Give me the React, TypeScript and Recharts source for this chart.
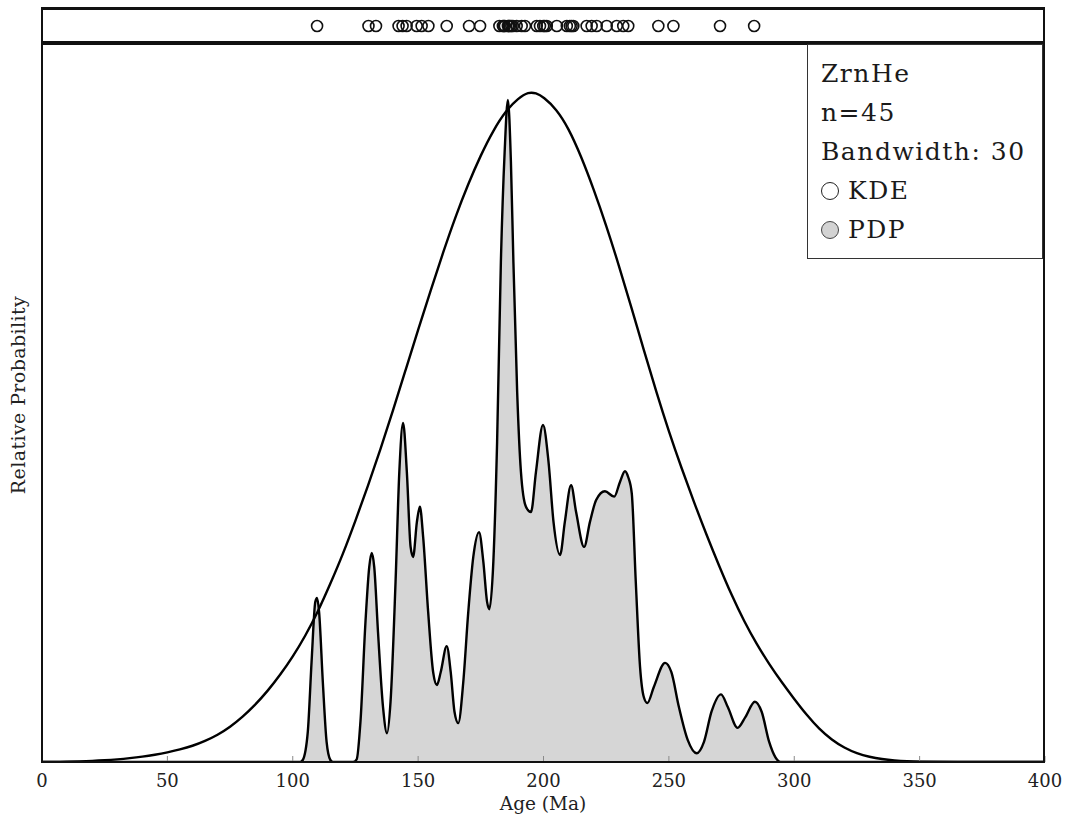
import React from "react";
import { Area, ComposedChart, Line, Scatter, ScatterChart, XAxis, YAxis } from "recharts";

// x axis ticks (Ma)
const ageTicks = [0, 50, 100, 150, 200, 250, 300, 350, 400];

// single-grain ages shown in the strip above the plot
const grainAges = [
  109.7, 130.2, 133.2, 142.2, 143.8, 145.4, 149.4, 151.4, 154.1, 161.4,
  170.3, 174.7, 182.4, 183.8, 184.2, 184.6, 185.8, 186.2, 186.6, 187.2,
  187.8, 189.3, 191.3, 192.6, 197.3, 198.6, 199.9, 200.5, 201.3, 205.3,
  209.3, 210.5, 211.2, 211.9, 217.2, 219.2, 221.2, 225.2, 229.2, 231.8,
  233.8, 245.8, 251.8, 270.4, 284.0,
];

// KDE curve (peak = 1)
const kdeAges = [
  0, 5, 10, 15, 20, 25, 30, 35, 40, 45, 50, 55, 60, 65, 70, 75, 80, 85, 90, 95, 100, 105, 110, 115,
  120, 125, 130, 135, 140, 145, 150, 155, 160, 165, 170, 175, 180, 185, 190, 194, 197, 200, 205, 210,
  215, 220, 225, 230, 235, 240, 245, 250, 255, 260, 265, 270, 275, 280, 285, 290, 295, 300, 305, 310,
  315, 320, 325, 330, 335, 340, 345, 350, 360, 400,
];
const kdeValues = [
  0, 0, 0.0004, 0.0009, 0.0015, 0.0025, 0.0039, 0.0057, 0.0079, 0.0107, 0.0142, 0.0187, 0.0239, 0.0313,
  0.0403, 0.0522, 0.0672, 0.0851, 0.106, 0.13, 0.157, 0.188, 0.224, 0.266, 0.31, 0.36, 0.412, 0.467,
  0.525, 0.585, 0.645, 0.704, 0.761, 0.815, 0.863, 0.906, 0.943, 0.972, 0.991, 1.0, 0.9985, 0.9925,
  0.975, 0.946, 0.904, 0.855, 0.801, 0.742, 0.679, 0.615, 0.552, 0.493, 0.439, 0.388, 0.339, 0.293,
  0.249, 0.21, 0.176, 0.146, 0.119, 0.094, 0.07, 0.049, 0.033, 0.021, 0.0127, 0.0075, 0.0042, 0.0022,
  0.001, 0.0004, 0, 0,
];

// PDP curve
const pdpAges = [
  0, 103, 104, 106, 107.5, 109, 109.7, 110.5, 112, 113.5, 115, 116, 124, 125.5, 127, 129, 130.5, 131.5,
  132.5, 134, 136, 137.6, 139, 141, 142.5, 144, 145.5, 147, 148, 149.5, 150.7, 152, 154, 156, 157.5,
  159, 161.4, 163, 164.5, 166, 168, 170, 172, 174.3, 176, 177.5, 178.4, 180, 181.5, 183, 184.5, 185.8,
  187, 188, 189.5, 191, 193, 195, 197, 199.8, 202, 204, 206.6, 208.5, 211, 213, 216.2, 218.5, 221,
  224.5, 228.2, 230.5, 232.5, 233.8, 235.2, 236.8, 238.5, 240, 241.4, 244, 248.5, 251, 254, 257.5,
  261.1, 264, 267, 270.8, 273.5, 277.4, 280.5, 284.3, 287, 290, 292.5, 294.5, 400,
];
const pdpValues = [
  0, 0, 0.003, 0.045, 0.149, 0.239, 0.245, 0.224, 0.119, 0.03, 0.003, 0, 0, 0.004, 0.06, 0.209, 0.291, 0.312,
  0.291, 0.194, 0.082, 0.043, 0.09, 0.269, 0.433, 0.506, 0.433, 0.321, 0.306, 0.358, 0.381, 0.336, 0.224, 0.134, 0.115,
  0.134, 0.173, 0.134, 0.075, 0.058, 0.119, 0.224, 0.306, 0.343, 0.299, 0.239, 0.228, 0.299, 0.478, 0.746, 0.91, 0.988,
  0.896, 0.746, 0.552, 0.433, 0.381, 0.373, 0.433, 0.503, 0.448, 0.358, 0.309, 0.358, 0.413, 0.373, 0.321, 0.358, 0.391,
  0.404, 0.396, 0.418, 0.434, 0.425, 0.401, 0.269, 0.142, 0.097, 0.088, 0.112, 0.148, 0.134, 0.082, 0.033,
  0.013, 0.03, 0.075, 0.101, 0.082, 0.051, 0.067, 0.09, 0.075, 0.03, 0.007, 0, 0,
];

const kdeData = kdeAges.map((age, i) => ({ age, k: kdeValues[i] }));
const pdpData = pdpAges.map((age, i) => ({ age, p: pdpValues[i] }));
const grainData = grainAges.map((age) => ({ age, y: 0.5 }));

const font = "'DejaVu Serif', 'Liberation Serif', serif";
const tickGrey = "#8a8a8a";

function BottomTick({ x, y, payload }: any) {
  return (
    <g>
      <line x1={x} x2={x} y1={y} y2={y - 6} stroke={tickGrey} strokeWidth={1} />
      <text x={x} y={y + 25} textAnchor="middle" fontFamily={font} fontSize={18} fill="#222">
        {payload.value}
      </text>
    </g>
  );
}

function TopTick({ x, y }: any) {
  return <line x1={x} x2={x} y1={y} y2={y + 6} stroke={tickGrey} strokeWidth={1} />;
}

function GrainDot({ cx, cy }: any) {
  return <circle cx={cx} cy={cy} r={5.5} fill="none" stroke="#111" strokeWidth={1.6} />;
}

const legendLine = { height: 39, lineHeight: "39px", whiteSpace: "nowrap" as const };

export default function App() {
  return (
    <div style={{ position: "absolute", left: 0, top: 0, width: 1070, height: 823, background: "#fff" }}>
      {/* strip of individual ages */}
      <div style={{ position: "absolute", left: 0, top: 0 }}>
        <ScatterChart width={1070} height={44} margin={{ top: 8, left: 42, right: 25, bottom: 0 }}>
          <XAxis dataKey="age" type="number" domain={[0, 400]} hide />
          <YAxis dataKey="y" type="number" domain={[0, 1]} hide />
          <Scatter data={grainData} shape={<GrainDot />} isAnimationActive={false} />
        </ScatterChart>
      </div>

      <div style={{ position: "absolute", left: 0, top: 0 }}>
        <ComposedChart width={1070} height={823} margin={{ top: 44, left: 42, right: 25, bottom: 31 }}>
          <XAxis
            dataKey="age"
            type="number"
            domain={[0, 400]}
            ticks={ageTicks}
            allowDataOverflow
            height={30}
            tickSize={0}
            tickMargin={0}
            axisLine={false}
            tick={<BottomTick />}
          />
          <XAxis
            xAxisId="top"
            orientation="top"
            dataKey="age"
            type="number"
            domain={[0, 400]}
            ticks={ageTicks}
            allowDataOverflow
            height={0}
            tickSize={0}
            tickMargin={0}
            axisLine={false}
            tick={<TopTick />}
          />
          <YAxis type="number" domain={[0, 1.0716]} allowDataOverflow hide />
          <Area
            data={pdpData}
            dataKey="p"
            type="monotone"
            fill="#d6d6d6"
            fillOpacity={1}
            stroke="#000"
            strokeWidth={2.4}
            isAnimationActive={false}
          />
          <Line
            data={kdeData}
            dataKey="k"
            type="basis"
            stroke="#000"
            strokeWidth={2.4}
            dot={false}
            isAnimationActive={false}
          />
        </ComposedChart>
      </div>

      {/* frames */}
      <div style={{ position: "absolute", left: 41, top: 7, width: 1004, height: 36, border: "2px solid #111", borderTopWidth: 3, boxSizing: "border-box", pointerEvents: "none" }} />
      <div style={{ position: "absolute", left: 41, top: 43, width: 1004, height: 720, border: "2px solid #111", boxSizing: "border-box", pointerEvents: "none" }} />

      {/* legend */}
      <div
        style={{
          position: "absolute",
          left: 807,
          top: 44,
          width: 236,
          height: 215,
          border: "1.5px solid #333",
          boxSizing: "border-box",
          background: "#fff",
          fontFamily: font,
          fontSize: 25,
          letterSpacing: 1.5,
          color: "#1a1a1a",
          padding: "9px 0 0 13px",
        }}
      >
        <div style={legendLine}>ZrnHe</div>
        <div style={legendLine}>n=45</div>
        <div style={legendLine}>Bandwidth: 30</div>
        <div style={{ ...legendLine, display: "flex", alignItems: "center" }}>
          <span style={{ display: "inline-block", width: 16, height: 16, borderRadius: "50%", border: "1.6px solid #222", marginRight: 9 }} />
          KDE
        </div>
        <div style={{ ...legendLine, display: "flex", alignItems: "center" }}>
          <span style={{ display: "inline-block", width: 16, height: 16, borderRadius: "50%", border: "1.6px solid #444", background: "#d3d3d3", marginRight: 9 }} />
          PDP
        </div>
      </div>

      {/* axis titles */}
      <div style={{ position: "absolute", left: 443, top: 793, width: 200, textAlign: "center", fontFamily: font, fontSize: 18.5, color: "#222" }}>
        Age (Ma)
      </div>
      <div
        style={{
          position: "absolute",
          left: 18,
          top: 395,
          transform: "translate(-50%, -50%) rotate(-90deg)",
          whiteSpace: "nowrap",
          fontFamily: font,
          fontSize: 19,
          letterSpacing: 0.4,
          color: "#222",
        }}
      >
        Relative Probability
      </div>
    </div>
  );
}
